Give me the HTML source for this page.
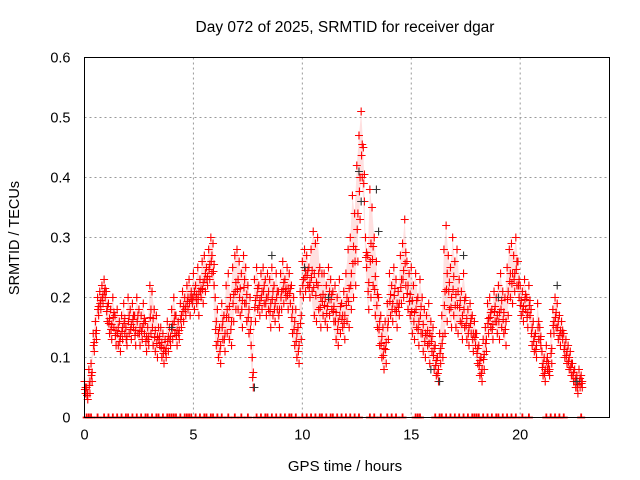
<!DOCTYPE html>
<html><head><meta charset="utf-8"><style>
body{margin:0;background:#fff}
svg{display:block;font-family:"Liberation Sans",sans-serif}
</style></head><body>
<svg id="chart" width="640" height="480">
<text x="345" y="32" font-size="15.5" text-anchor="middle" fill="#000">Day 072 of 2025, SRMTID for receiver dgar</text>
<text x="345" y="471" font-size="15" text-anchor="middle">GPS time / hours</text>
<text transform="translate(19,238) rotate(-90)" font-size="14.5" text-anchor="middle">SRMTID / TECUs</text>
<g id="grid"></g><g id="band"></g><g id="marks"></g><g id="axes"></g>
</svg>
<script>
const xTicks=[0,5,10,15,20];
const yTicks=[0,0.1,0.2,0.3,0.4,0.5,0.6];
const t0=0, dt=0.1;
const upperVals=[.06,.05,.08,.09,.14,.16,.20,.21,.22,.23,.21,.19,.18,.20,.17,.18,.16,.17,.19,.15,.20,.18,.19,.17,.20,.18,.17,.19,.16,.15,.22,.21,.18,.17,.15,.15,.14,.13,.16,.15,.18,.20,.17,.16,.19,.21,.20,.22,.23,.21,.24,.22,.25,.23,.26,.27,.25,.28,.30,.29,.20,.18,.15,.19,.17,.22,.24,.20,.25,.27,.28,.26,.24,.27,.25,.22,.20,.10,.23,.25,.22,.24,.25,.23,.24,.23,.25,.22,.24,.21,.24,.26,.23,.25,.24,.22,.20,.18,.15,.21,.26,.28,.27,.25,.28,.31,.29,.30,.25,.24,.24,.22,.25,.23,.21,.22,.20,.23,.19,.21,.24,.28,.30,.37,.34,.42,.47,.51,.45,.30,.27,.38,.35,.30,.26,.20,.17,.15,.16,.19,.24,.22,.25,.23,.21,.27,.29,.33,.26,.24,.25,.22,.24,.20,.23,.20,.18,.17,.19,.16,.15,.12,.10,.14,.17,.28,.32,.27,.25,.30,.26,.28,.23,.21,.24,.20,.18,.19,.17,.16,.14,.12,.10,.13,.15,.19,.20,.18,.21,.20,.22,.24,.21,.20,.25,.28,.29,.27,.30,.26,.22,.21,.23,.20,.22,.18,.16,.14,.19,.15,.11,.10,.12,.09,.14,.18,.20,.19,.17,.16,.14,.13,.12,.11,.09,.08,.07,.08,.07];
const lowerVals=[.04,.03,.04,.06,.11,.13,.17,.18,.19,.20,.16,.14,.13,.15,.12,.12,.11,.13,.14,.12,.14,.13,.15,.12,.14,.12,.13,.14,.11,.12,.14,.12,.11,.10,.12,.10,.09,.10,.11,.12,.13,.14,.12,.13,.15,.16,.17,.18,.17,.19,.18,.19,.17,.20,.19,.21,.22,.23,.24,.22,.12,.10,.09,.13,.11,.14,.13,.12,.16,.18,.18,.17,.15,.19,.16,.14,.12,.05,.16,.18,.17,.18,.19,.17,.18,.15,.17,.16,.18,.15,.18,.19,.20,.18,.19,.14,.12,.10,.09,.13,.20,.21,.22,.20,.21,.17,.16,.18,.15,.17,.16,.15,.17,.18,.16,.13,.12,.14,.15,.13,.16,.15,.18,.20,.22,.26,.33,.40,.36,.25,.18,.20,.22,.17,.15,.12,.10,.08,.09,.13,.17,.16,.18,.15,.17,.19,.20,.22,.18,.17,.14,.13,.15,.12,.14,.11,.10,.12,.09,.11,.08,.07,.06,.09,.10,.14,.16,.18,.15,.17,.15,.14,.16,.13,.15,.13,.12,.14,.11,.12,.09,.07,.06,.08,.11,.14,.15,.13,.16,.14,.13,.15,.14,.12,.17,.20,.19,.21,.22,.20,.17,.16,.18,.15,.17,.12,.11,.10,.13,.12,.07,.06,.08,.07,.09,.14,.15,.13,.12,.13,.10,.09,.08,.07,.06,.05,.04,.05,.05];
const blackT=[7.8,8.6,10.1,12.6,12.7,13.4,13.5,15.9,16.3,17.4,19.0,21.7,22.6,4.0,11.2];
const blackV=[.05,.27,.25,.41,.36,.38,.31,.08,.06,.27,.2,.22,.06,.15,.2];
const zeroT=[0.1,0.2,0.3,0.6,0.9,1.1,1.3,1.5,1.7,1.9,2.0,2.2,2.4,2.6,2.8,2.9,3.1,3.3,3.4,3.6,3.8,3.9,4.0,4.1,4.2,4.4,4.6,4.7,4.8,4.9,5.1,5.3,5.5,5.6,5.8,5.9,6.1,6.3,6.6,6.9,7.2,7.5,7.9,8.1,8.3,8.4,8.6,8.8,9.0,9.2,9.4,9.5,9.7,10.0,10.2,10.4,10.6,10.8,10.9,11.1,11.3,11.4,11.6,11.8,12.0,12.2,12.4,12.6,13.1,13.3,13.6,13.9,14.1,14.3,14.6,15.2,15.3,15.4,16.1,16.3,16.4,16.6,16.8,17.0,17.2,17.4,17.6,17.8,17.9,18.0,18.1,18.3,18.5,18.7,18.9,19.0,19.2,19.4,19.6,19.8,20.1,20.4,21.2,21.4,21.6,21.8,22.0,22.8];
const NS="http://www.w3.org/2000/svg";
const L=84.5,R=609.5,T=57.5,B=417.5,XMAX=24.1,YMAX=0.6;
function xs(v){return L+(v/XMAX)*(R-L);}
function ys(v){return B-(v/YMAX)*(B-T);}
function mk(tag,at,parent){const e=document.createElementNS(NS,tag);for(const k in at)e.setAttribute(k,at[k]);parent.appendChild(e);return e;}
const grid=document.getElementById('grid'),axes=document.getElementById('axes'),marks=document.getElementById('marks'),band=document.getElementById('band');
xTicks.forEach(v=>{
  if(v>0){const g=mk('line',{x1:xs(v),x2:xs(v),y1:T,y2:B,stroke:'#999','stroke-dasharray':'2,3'},grid);
  
  }
  const t=mk('text',{x:xs(v),y:B+22,'font-size':14.5,'text-anchor':'middle'},axes);t.textContent=v;
  
  
});
yTicks.forEach(v=>{
  if(v>0&&v<0.6){const g=mk('line',{x1:L,x2:R,y1:ys(v),y2:ys(v),stroke:'#999','stroke-dasharray':'2,3'},grid);
  
  }
  const t=mk('text',{x:L-14,y:ys(v)+5,'font-size':14.5,'text-anchor':'end'},axes);t.textContent=v===0?'0':v.toFixed(1);
  
  
});
const frame=mk('rect',{x:L,y:T,width:R-L,height:B-T,fill:'none',stroke:'#000','stroke-width':1},axes);


let pts=[];
upperVals.forEach((v,i)=>pts.push(xs(t0+i*dt)+','+ys(v)));
for(let i=lowerVals.length-1;i>=0;i--)pts.push(xs(t0+i*dt)+','+ys(lowerVals[i]));
const poly=mk('polygon',{points:pts.join(' '),fill:'rgba(255,0,0,0.12)',stroke:'none'},band);


function plus(x,y,c,name){
  const p=mk('path',{d:`M${x-4},${y}h8M${x},${y-4}v8`,stroke:c,'stroke-width':1.1,fill:'none'},marks);
  
  
}
upperVals.forEach((v,i)=>{plus(xs(t0+i*dt),ys(v),'#f00','srmtid-point');});
lowerVals.forEach((v,i)=>{plus(xs(t0+i*dt+0.05),ys(v),'#f00','srmtid-point');});
upperVals.forEach((v,i)=>{plus(xs(t0+i*dt+0.05),ys((v+lowerVals[i])/2),'#f00','srmtid-point');});
lowerVals.forEach((v,i)=>{plus(xs(t0+i*dt+0.02),ys((2*v+upperVals[i])/3),'#f00','srmtid-point');});
blackT.forEach((t,i)=>{plus(xs(t),ys(blackV[i]),'#333','srmtid-point-alt');});
zeroT.forEach(t=>{
  const p=mk('path',{d:`M${xs(t)-4},${B}h8M${xs(t)},${B-4}v4`,stroke:'#f00','stroke-width':1.8,fill:'none'},marks);
  
  
});
</script>
</body></html>
